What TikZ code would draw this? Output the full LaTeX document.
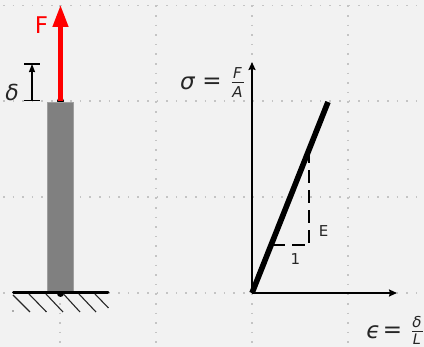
\documentclass[tikz,border=0pt]{standalone}
\usepackage{fontspec}
\setmainfont{DejaVu Sans}
\usetikzlibrary{arrows.meta}
\definecolor{bgc}{HTML}{F2F2F2}
\definecolor{txt}{HTML}{262626}
\definecolor{griddot}{HTML}{C4C4C4}
\tikzset{
  griddots/.style={griddot,line width=1.6pt,dash pattern=on 1.6pt off 8pt},
  thinaxis/.style={black,line width=2pt,-{Stealth[length=8pt,width=7pt,inset=1pt]}},
  hatchline/.style={black!85,line width=1.1pt},
  label/.style={text=txt,inner sep=0pt,font=\fontsize{15}{17}\selectfont},
  eqn/.style={text=txt,inner sep=0pt,font=\fontsize{23}{26}\selectfont},
  frac/.style={text=txt,inner sep=0pt,font=\fontsize{15}{16}\selectfont\itshape},
  fracbar/.style={txt,line width=0.9pt},
  guide/.style={black,line width=1.2pt,dash pattern=on 12.5pt off 7.5pt},
}
\begin{document}
\begin{tikzpicture}[x=1pt,y=-1pt]
\fill[bgc] (0,0) rectangle (424,347);
\useasboundingbox (0,0) rectangle (424,347);
% grid
\foreach \yy in {5.5,101,197,293} \draw[griddots] (3,\yy) -- (424,\yy);
\foreach \xx in {60,156,252,348} \draw[griddots] (\xx,5.5) -- (\xx,347);
% named points
\coordinate (bartop) at (60.5,101);
\coordinate (F) at (60.5,5);
\coordinate (dlow) at (32,100.5);
\coordinate (dup) at (32,64);
\coordinate (O) at (252,293);
\coordinate (Y) at (252,62);
\coordinate (X) at (397,293);
\coordinate (P) at (328,102);
\coordinate (g1) at (272,245);
\coordinate (g2) at (304.5,245);
\coordinate (g3) at (309,243);
\coordinate (g4) at (309,152);
% bar
\fill[black] (60.5,293.5) circle (3.5);
\fill[black] (bartop) circle (3.5);
\fill[gray!100,draw=gray!75] (47.5,102) rectangle (73.5,293);
% force
\draw[red,line width=4.4pt,-{Triangle[length=22pt,width=15pt]}] (bartop) -- (F);
\node[text=red,inner sep=0pt,font=\fontsize{23}{25}\selectfont] (Flab) at (41.5,25.5) {F};
% delta
\draw[black,line width=1.7pt] (24,64) -- (40,64);
\draw[black,line width=1.7pt] (24,100.5) -- (40,100.5);
\draw[black,line width=1.6pt,-{Stealth[length=8pt,width=6pt,inset=0.5pt]}] (dlow) -- (dup);
\node[eqn,font=\fontsize{22}{24}\selectfont\itshape] (dl) at (12,92) {δ};
% ground
\draw[black,line width=3pt,line cap=round] (13.5,293) -- (108,293);
\foreach \a/\b/\c/\d in {13/295/30/312, 29/294/46.5/312, 46/294/63/312, 63.5/294/80/312, 79/294/96/312, 95/294/108.5/308}
  \draw[hatchline] (\a,\b) -- (\c,\d);
\fill[black!60] (13,311) circle (0.8);
% chart
\draw[thinaxis] (O) -- (Y);
\draw[thinaxis] (O) -- (X);
\draw[guide] (g1) -- (g2);
\draw[guide] (g3) -- (g4);
\draw[black,line width=5.6pt] (O) -- (P);
\node[label] (E) at (323.5,231) {E};
\node[label] (one) at (295.5,259.5) {1};
\node[eqn,font=\fontsize{23}{26}\selectfont\itshape] (sig) at (187.5,83.5) {σ};
\node[eqn] (eqa) at (212,83) {=};
\node[frac] (Fn) at (237.5,73.5) {F};
\node[frac] (An) at (237.5,92) {A};
\draw[fracbar] (231.5,82.5) -- (243.5,82.5);
\node[eqn,font=\fontsize{23}{26}\selectfont\itshape] (eps) at (373.5,332.5) {ϵ};
\node[eqn] (eqb) at (392.5,332) {=};
\node[frac] (dn) at (417,322) {δ};
\node[frac,font=\fontsize{14.5}{16}\selectfont\itshape] (Ln) at (417,339.5) {L};
\draw[fracbar] (412,331.5) -- (423,331.5);
\end{tikzpicture}
\end{document}
